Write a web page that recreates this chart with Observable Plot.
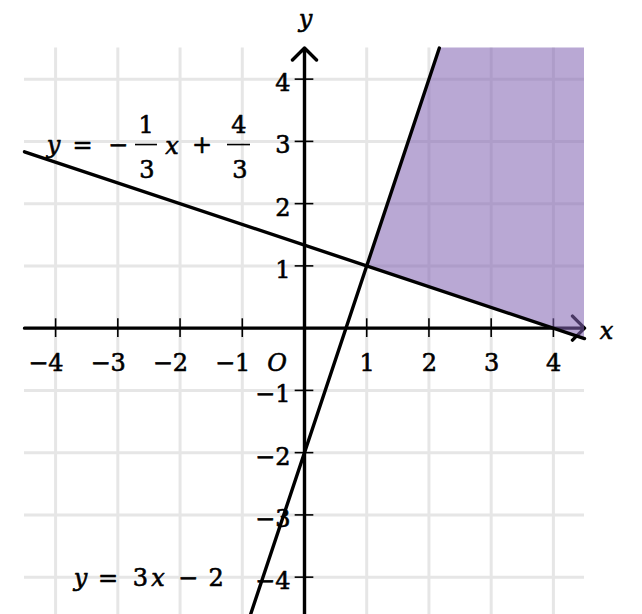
<!DOCTYPE html>
<html><head><meta charset="utf-8">
<script src="https://cdn.jsdelivr.net/npm/d3@7"></script>
<script src="https://cdn.jsdelivr.net/npm/@observablehq/plot@0.6"></script>
<style>body{margin:0;background:#fff}</style>
</head><body><div id="chart"></div>
<script>
// ---- data ----
const xTicks = [-4, -3, -2, -1, 1, 2, 3, 4];
const xTickLabels = ["−4", "−3", "−2", "−1", "1", "2", "3", "4"];
const yTicks = [-4, -3, -2, -1, 1, 2, 3, 4];
const yTickLabels = ["−4", "−3", "−2", "−1", "1", "2", "3", "4"];
const gridValues = [-4, -3, -2, -1, 0, 1, 2, 3, 4];
// y = -1/3 x + 4/3
const lineA = [{x: -4.5, y: 2.833}, {x: 4.5, y: -0.167}];
// y = 3x - 2
const lineB = [{x: -0.867, y: -4.6}, {x: 2.167, y: 4.5}];
// shaded solution region (between the two lines, to the right)
const regionX = [1, 2.167, 4.5];
const regionLower = [1, 0.611, -0.167];
const regionUpper = [1, 4.5, 4.5];
// axes
const axisLines = [{x1: -4.5, y1: 0, x2: 4.5, y2: 0}, {x1: 0, y1: -4.6, x2: 0, y2: 4.5}];
// equation labels (tokens)
const eq1 = [
  {t: "y", x: -4.034, y: 2.821, it: true},
  {t: "=", x: -3.568, y: 2.821, it: false},
  {t: "−", x: -2.997, y: 2.821, it: false},
  {t: "1", x: -2.547, y: 3.142, it: false},
  {t: "3", x: -2.531, y: 2.419, it: false},
  {t: "x", x: -2.130, y: 2.805, it: true},
  {t: "+", x: -1.647, y: 2.821, it: false},
  {t: "4", x: -1.053, y: 3.142, it: false},
  {t: "3", x: -1.037, y: 2.419, it: false}
];
const fracBars = [{x1: -2.716, x2: -2.363, y: 2.949}, {x1: -1.238, x2: -0.868, y: 2.949}];
const eq2 = [
  {t: "y", x: -3.600, y: -4.139, it: true},
  {t: "=", x: -3.158, y: -4.139, it: false},
  {t: "3", x: -2.636, y: -4.139, it: false},
  {t: "x", x: -2.354, y: -4.139, it: true},
  {t: "−", x: -1.872, y: -4.139, it: false},
  {t: "2", x: -1.422, y: -4.139, it: false}
];

const region = regionX.map((x, i) => ({x, lower: regionLower[i], upper: regionUpper[i]}));
const tokens = eq1.concat(eq2);
const FONT = "'DejaVu Serif', serif";
const FS = 24;
const txt = {fontFamily: FONT, fontSize: FS, fill: "black", stroke: "black", strokeWidth: 0.6, lineAnchor: "bottom"};

const chart = Plot.plot({
  width: 642,
  height: 614,
  marginLeft: 24,
  marginRight: 58,
  marginTop: 47.5,
  marginBottom: 0,
  style: {fontFamily: FONT},
  x: {domain: [-4.5, 4.5], axis: null},
  y: {domain: [-4.6, 4.5], axis: null},
  marks: [
    Plot.ruleX(gridValues, {x: d => d, stroke: "#e6e6e6", strokeWidth: 3}),
    Plot.ruleY(gridValues, {y: d => d, stroke: "#e6e6e6", strokeWidth: 3}),
    Plot.arrow(axisLines, {x1: "x1", y1: "y1", x2: "x2", y2: "y2", stroke: "black", strokeWidth: 3.4, headLength: 7.5, headAngle: 90, strokeLinecap: "round", strokeLinejoin: "round"}),
    Plot.ruleX(xTicks, {x: d => d, y1: -0.15, y2: 0.15, stroke: "black", strokeWidth: 1.6}),
    Plot.ruleY(yTicks, {y: d => d, x1: -0.15, x2: 0.15, stroke: "black", strokeWidth: 1.6}),
    Plot.text(xTicks, {...txt, x: d => d, y: 0, text: (d, i) => xTickLabels[i], textAnchor: "end", dx: 8, dy: 42.5}),
    Plot.text(yTicks, {...txt, x: 0, y: d => d, text: (d, i) => yTickLabels[i], textAnchor: "end", dx: -14, dy: 12}),
    Plot.text([{t: "O"}], {...txt, x: 0, y: 0, text: "t", textAnchor: "middle", dx: -27.5, dy: 42.5, fontStyle: "italic"}),
    Plot.text([{t: "x"}], {...txt, x: 4.5, y: 0, text: "t", textAnchor: "middle", dx: 22, dy: 10.5, fontStyle: "italic"}),
    Plot.text([{t: "y"}], {...txt, x: 0, y: 4.5, text: "t", textAnchor: "middle", dx: 1, dy: -21.5, fontStyle: "italic"}),
    Plot.areaY(region, {x: "x", y1: "lower", y2: "upper", fill: "#8264b2", fillOpacity: 0.56}),
    Plot.line(lineA, {x: "x", y: "y", stroke: "black", strokeWidth: 3.4}),
    Plot.line(lineB, {x: "x", y: "y", stroke: "black", strokeWidth: 3.4}),
    Plot.text(tokens.filter(d => d.it), {...txt, x: "x", y: "y", text: "t", textAnchor: "middle", fontStyle: "italic"}),
    Plot.text(tokens.filter(d => !d.it), {...txt, x: "x", y: "y", text: "t", textAnchor: "middle"}),
    Plot.ruleY(fracBars, {y: "y", x1: "x1", x2: "x2", stroke: "black", strokeWidth: 1.6})
  ]
});
document.getElementById("chart").appendChild(chart);
</script>
</body></html>
